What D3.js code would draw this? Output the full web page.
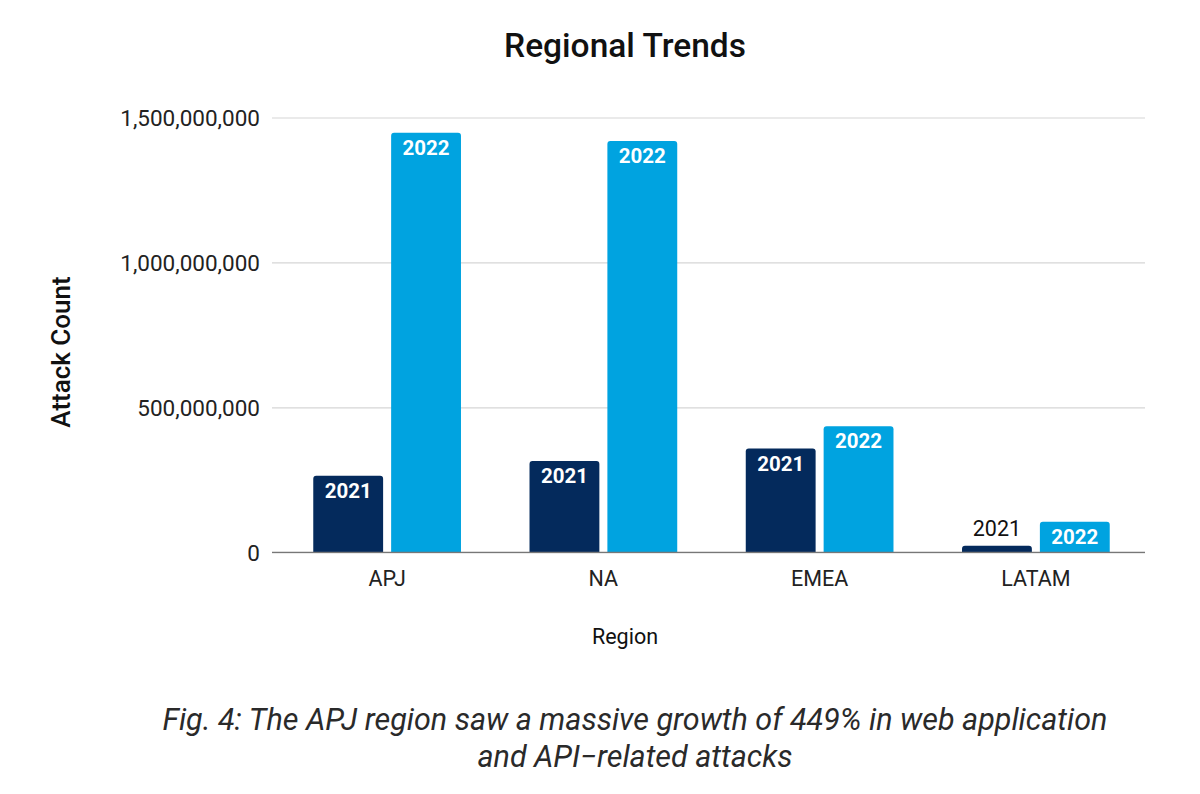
<!DOCTYPE html>
<html>
<head>
<meta charset="utf-8">
<script src="https://cdn.jsdelivr.net/npm/d3@7"></script>
<style>
  body { margin: 0; background: #fff; }
  text { font-family: Roboto, "Open Sans", sans-serif; }
</style>
</head>
<body>
<div id="chart"></div>
<script>
// --- data ---
const regions = ['APJ', 'NA', 'EMEA', 'LATAM'];
const years = ['2021', '2022'];
const attacks2021 = [264000000, 315000000, 358000000, 23000000];
const attacks2022 = [1447000000, 1419000000, 435000000, 105000000];
const yTicks = [0, 500000000, 1000000000, 1500000000];
const captionLines = [
    'Fig. 4: The APJ region saw a massive growth of 449% in web application',
    'and API\u2212related attacks'
];

const width = 1200;
const height = 794;
const colors = {'2021': '#042a5c', '2022': '#00a3e0'};

const svg = d3.select('#chart')
    .append('svg')
        .attr('width', width)
        .attr('height', height);

// plot area
const plotLeft = 279, plotRight = 1144, plotTop = 117.5, plotBottom = 552.3;

const x = d3.scaleBand()
    .domain(regions)
    .range([plotLeft, plotRight]);

const xInner = d3.scaleBand()
    .domain(years)
    .range([0, x.bandwidth()])
    .paddingInner(0.103)
    .paddingOuter(0.44);

const y = d3.scaleLinear()
    .domain([0, 1500000000])
    .range([plotBottom, plotTop]);

// title
svg.append('text')
    .attr('x', 625)
    .attr('y', 57)
    .attr('text-anchor', 'middle')
    .style('font-size', '33.5px')
    .style('font-weight', 500)
    .style('fill', '#111')
    .text('Regional Trends');

// gridlines + y tick labels
const yAxis = svg.append('g')
    .attr('transform', `translate(272,0)`)
    .call(d3.axisRight(y)
        .tickValues(yTicks)
        .tickSize(plotRight - 272 + 1)
        .tickFormat(d3.format(',')));

yAxis.select('.domain').remove();
yAxis.selectAll('.tick line')
    .attr('stroke', '#d6d6d6')
    .attr('stroke-width', 1.2);
yAxis.selectAll('.tick text')
    .attr('x', -12)
    .attr('text-anchor', 'end')
    .attr('dy', '0.36em')
    .style('font-size', '22.5px')
    .style('fill', '#222');

// bars
const rows = regions.map((r, i) => ({region: r, values: [
    {year: '2021', value: attacks2021[i]},
    {year: '2022', value: attacks2022[i]}
]}));

function topRounded(x0, y0, w, h, r) {
    r = Math.min(r, h, w / 2);
    return `M${x0},${y0 + h}V${y0 + r}Q${x0},${y0} ${x0 + r},${y0}H${x0 + w - r}Q${x0 + w},${y0} ${x0 + w},${y0 + r}V${y0 + h}Z`;
}

const groups = svg.append('g')
    .selectAll('g')
    .data(rows)
    .join('g')
        .attr('transform', d => `translate(${x(d.region)},0)`);

groups.selectAll('path')
    .data(d => d.values)
    .join('path')
        .attr('d', d => topRounded(xInner(d.year), y(d.value), xInner.bandwidth(), plotBottom - y(d.value), 3))
        .style('fill', d => colors[d.year]);

// labels: inside the bar if it fits, otherwise above it
const fits = d => (plotBottom - y(d.value)) > 26;

groups.selectAll('text')
    .data(d => d.values)
    .join('text')
        .attr('x', d => xInner(d.year) + xInner.bandwidth() / 2)
        .attr('y', d => fits(d) ? y(d.value) + 22 : y(d.value) - 10)
        .attr('text-anchor', 'middle')
        .style('font-size', d => fits(d) ? '20.5px' : '21.5px')
        .style('font-weight', d => fits(d) ? 700 : 400)
        .style('fill', d => fits(d) ? '#fff' : '#111')
        .text(d => d.year);

// baseline
svg.append('line')
    .attr('x1', 272)
    .attr('x2', plotRight + 1)
    .attr('y1', y(0))
    .attr('y2', y(0))
    .attr('stroke', '#777')
    .attr('stroke-width', 1.3);

// x axis labels
const xAxis = svg.append('g')
    .attr('transform', `translate(0,${plotBottom})`)
    .call(d3.axisBottom(x).tickSize(0).tickPadding(0));

xAxis.select('.domain').remove();
xAxis.selectAll('.tick text')
    .attr('y', 34)
    .attr('dy', 0)
    .style('font-size', '21.5px')
    .style('fill', '#222');

// axis titles
svg.append('text')
    .attr('x', 625)
    .attr('y', 644)
    .attr('text-anchor', 'middle')
    .style('font-size', '21.5px')
    .style('fill', '#111')
    .text('Region');

svg.append('text')
    .attr('transform', 'translate(70,352) rotate(-90)')
    .attr('text-anchor', 'middle')
    .style('font-size', '26px')
    .style('font-weight', 500)
    .style('fill', '#111')
    .text('Attack Count');

// caption
svg.append('g')
    .selectAll('text')
    .data(captionLines)
    .join('text')
        .attr('x', 635)
        .attr('y', (d, i) => 730 + i * 36.5)
        .attr('text-anchor', 'middle')
        .style('font-size', '30.5px')
        .style('font-style', 'italic')
        .style('fill', '#2a2a2a')
        .text(d => d);
</script>
</body>
</html>
